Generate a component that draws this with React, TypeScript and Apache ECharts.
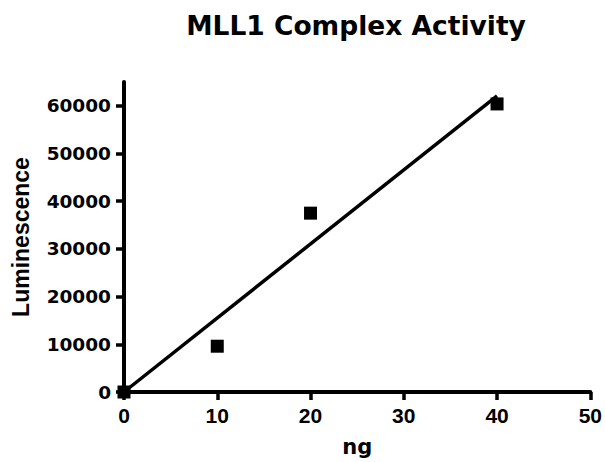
import React, { useEffect, useRef } from "react";
import * as echarts from "echarts";

const titleText = "MLL1 Complex Activity";
const xName = "ng";
const yName = "Luminescence";

const pointX = [0, 10, 20, 40];
const pointY = [0, 9600, 37500, 60400];

const fitX = [0, 40];
const fitY = [0, 62100];

const xTicks = [0, 10, 20, 30, 40, 50];
const yTicks = [0, 10000, 20000, 30000, 40000, 50000, 60000];

export default function App() {
  const ref = useRef<HTMLDivElement>(null);

  useEffect(() => {
    if (!ref.current) return;
    const chart = echarts.init(ref.current, undefined, { renderer: "svg" });
    const axisLineStyle = { color: "#000", width: 4 };
    chart.setOption({
      animation: false,
      backgroundColor: "#fff",
      title: {
        text: titleText,
        left: 356,
        top: 12,
        textAlign: "center",
        padding: 0,
        textStyle: {
          fontFamily: "DejaVu Sans",
          fontWeight: "bold",
          fontSize: 26.5,
          color: "#000",
        },
      },
      grid: { left: 124, right: 12, top: 82, bottom: 70, containLabel: false },
      xAxis: {
        type: "value",
        min: 0,
        max: 50,
        interval: 10,
        name: xName,
        nameLocation: "middle",
        nameGap: 44,
        nameTextStyle: {
          fontFamily: "DejaVu Sans",
          fontWeight: "bold",
          fontSize: 21,
          color: "#000",
        },
        axisLine: { show: true, onZero: false, lineStyle: axisLineStyle },
        axisTick: {
          show: true,
          inside: false,
          length: 8,
          customValues: xTicks,
          lineStyle: { color: "#000", width: 3.5 },
        },
        axisLabel: {
          customValues: xTicks,
          fontFamily: "Liberation Sans",
          fontWeight: "bold",
          fontSize: 21,
          color: "#000",
          margin: 13,
          formatter: (v: number) => String(v),
        },
        splitLine: { show: false },
      },
      yAxis: {
        type: "value",
        min: 0,
        max: 65000,
        interval: 10000,
        name: yName,
        nameLocation: "middle",
        nameGap: 92,
        nameRotate: 90,
        nameTextStyle: {
          fontFamily: "Liberation Sans",
          fontWeight: "bold",
          fontSize: 23,
          color: "#000",
        },
        axisLine: { show: true, onZero: false, lineStyle: axisLineStyle },
        axisTick: {
          show: true,
          inside: false,
          length: 8,
          customValues: yTicks,
          lineStyle: { color: "#000", width: 3.5 },
        },
        axisLabel: {
          customValues: yTicks,
          fontFamily: "DejaVu Sans",
          fontWeight: "bold",
          fontSize: 18.5,
          color: "#000",
          margin: 13,
          formatter: (v: number) => String(v),
        },
        splitLine: { show: false },
      },
      series: [
        {
          type: "line",
          data: fitX.map((x, i) => [x, fitY[i]]),
          showSymbol: false,
          symbol: "none",
          clip: false,
          lineStyle: { color: "#000", width: 3.5 },
          z: 3,
        },
        {
          type: "scatter",
          data: pointX.map((x, i) => [x, pointY[i]]),
          symbol: "rect",
          symbolSize: 13,
          clip: false,
          itemStyle: { color: "#000", opacity: 1 },
          z: 4,
        },
      ],
    });
    return () => chart.dispose();
  }, []);

  return (
    <div
      ref={ref}
      style={{ position: "fixed", left: 0, top: 0, width: 605, height: 462 }}
    />
  );
}
